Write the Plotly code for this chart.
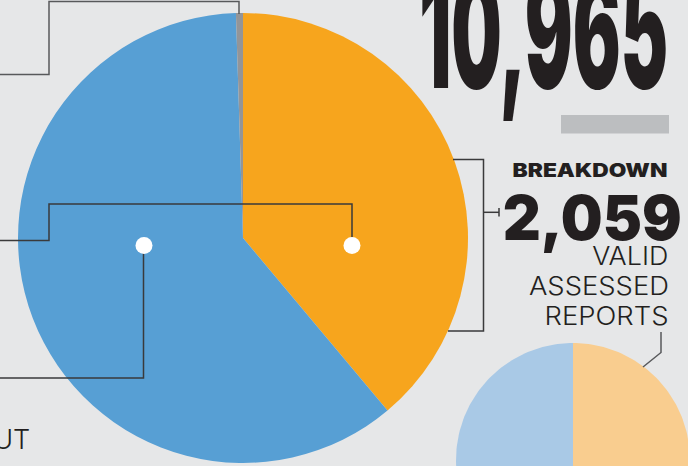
import numpy as np
import plotly.graph_objects as go

# ---------------- data ----------------
headline_total = "10,965"
breakdown_title = "BREAKDOWN"
breakdown_total = "2,059"
breakdown_caption = ["VALID", "ASSESSED", "REPORTS"]
left_fragment = "ABOUT"

main_labels = ["Segment A", "Segment B", "Segment C"]
main_values = [38.9, 60.6, 0.5]
main_colors = ["#f7a51d", "#579fd4", "#939598"]

small_labels = ["Segment A", "Segment B"]
small_values = [50, 50]
small_colors = ["#f9cd8f", "#a9c9e6"]

W, H = 688, 466
BG = "#e6e7e8"

fig = go.Figure()

# big pie (starts at 12 o'clock, clockwise)
cx, cy, r = 243, 238, 225
fig.add_trace(go.Pie(
    labels=main_labels, values=main_values, sort=False, direction="clockwise",
    rotation=0, marker=dict(colors=main_colors, line=dict(width=0)),
    textinfo="none", hoverinfo="skip", showlegend=False,
    domain=dict(x=[(cx - r) / W, (cx + r) / W], y=[1 - (cy + r) / H, 1 - (cy - r) / H]),
))

# small breakdown pie (partly off-canvas) drawn on pixel-scaled axes
scx, scy, sr = 573, 460, 117
fr = np.array(small_values, dtype=float) / np.sum(small_values)
edges = np.concatenate([[0], np.cumsum(fr)]) * 2 * np.pi
for i, lab in enumerate(small_labels):
    th = np.linspace(edges[i], edges[i + 1], 120)
    xs = np.concatenate([[scx], scx + sr * np.sin(th), [scx]])
    ys = np.concatenate([[scy], scy - sr * np.cos(th), [scy]])
    fig.add_trace(go.Scatter(x=xs, y=ys, fill="toself", fillcolor=small_colors[i],
                             mode="lines", line=dict(width=0), hoverinfo="skip",
                             showlegend=False, name=lab))

dark = "#3a3a3b"
mid = "#58595b"
shapes = [
    # callout to grey slice
    dict(type="path", path="M 0 74.5 L 49 74.5 L 49 1.5 L 239 1.5 L 239 14", line=dict(color=mid, width=1.5)),
    # callout to orange dot
    dict(type="path", path="M 0 240.5 L 49 240.5 L 49 204 L 352 204 L 352 238", line=dict(color=dark, width=1.5)),
    # callout from blue dot
    dict(type="path", path="M 143.5 246 L 143.5 378 L 0 378", line=dict(color=dark, width=1.5)),
    # bracket right of pie
    dict(type="path", path="M 453 159.5 L 483.5 159.5 L 483.5 331 L 448 331", line=dict(color=dark, width=1.5)),
    dict(type="path", path="M 483.5 212.3 L 499 212.3", line=dict(color=dark, width=1.5)),
    dict(type="path", path="M 499 208 L 499 216.5", line=dict(color=dark, width=1.5)),
    # pointer to small pie
    dict(type="path", path="M 661 332 L 661 352.5 L 643 367", line=dict(color=mid, width=1.5)),
    # grey bar under headline
    dict(type="rect", x0=561, x1=669, y0=115, y1=133.5, line=dict(width=0), fillcolor="#bcbec0"),
    # white dots
    dict(type="circle", x0=135.5, x1=152.5, y0=237, y1=254, line=dict(width=0), fillcolor="white"),
    dict(type="circle", x0=343.5, x1=360.5, y0=237, y1=254, line=dict(width=0), fillcolor="white"),
]
for s in shapes:
    s.update(xref="x", yref="y", layer="above")
fig.update_layout(shapes=shapes)

def ann(text, x, y, size, weight, xanchor="center", color="#231f20"):
    fig.add_annotation(text=text, x=x, y=y, xref="x", yref="y", showarrow=False,
                       xanchor=xanchor, yanchor="middle",
                       font=dict(family="Inter, Lato, sans-serif", size=size, weight=weight, color=color))

ann(headline_total, 543.5, 30.5, 158, 900)
ann(breakdown_title, 590, 170, 18.5, 900)
ann(breakdown_total, 591.5, 217.5, 62, 900)
ann(breakdown_caption[0], 630, 256, 25, 300)
ann(breakdown_caption[1], 598.5, 286, 25, 300)
ann(breakdown_caption[2], 606, 316, 25, 300)
ann(left_fragment, 32, 439.5, 27, 300, xanchor="right")

fig.update_layout(
    width=W, height=H, margin=dict(l=0, r=0, t=0, b=0),
    paper_bgcolor=BG, plot_bgcolor=BG,
    xaxis=dict(range=[0, W], visible=False, fixedrange=True),
    yaxis=dict(range=[H, 0], visible=False, fixedrange=True),
    showlegend=False,
)

post = """
document.body.style.margin = '0';
document.body.style.padding = '0';
document.body.style.overflow = 'hidden';
document.body.style.background = '#e6e7e8';
var gd = document.getElementById('{plot_id}');
var targets = {"10,965": 249, "BREAKDOWN": 155, "2,059": 179, "VALID": 76, "ASSESSED": 140, "REPORTS": 124};
gd.querySelectorAll('text.annotation-text').forEach(function(t){
  var w = targets[t.textContent];
  if (w) { t.setAttribute('textLength', w); t.setAttribute('lengthAdjust', 'spacingAndGlyphs'); }
});
"""
fig.write_html("out.html", post_script=post, config={"displayModeBar": False})
